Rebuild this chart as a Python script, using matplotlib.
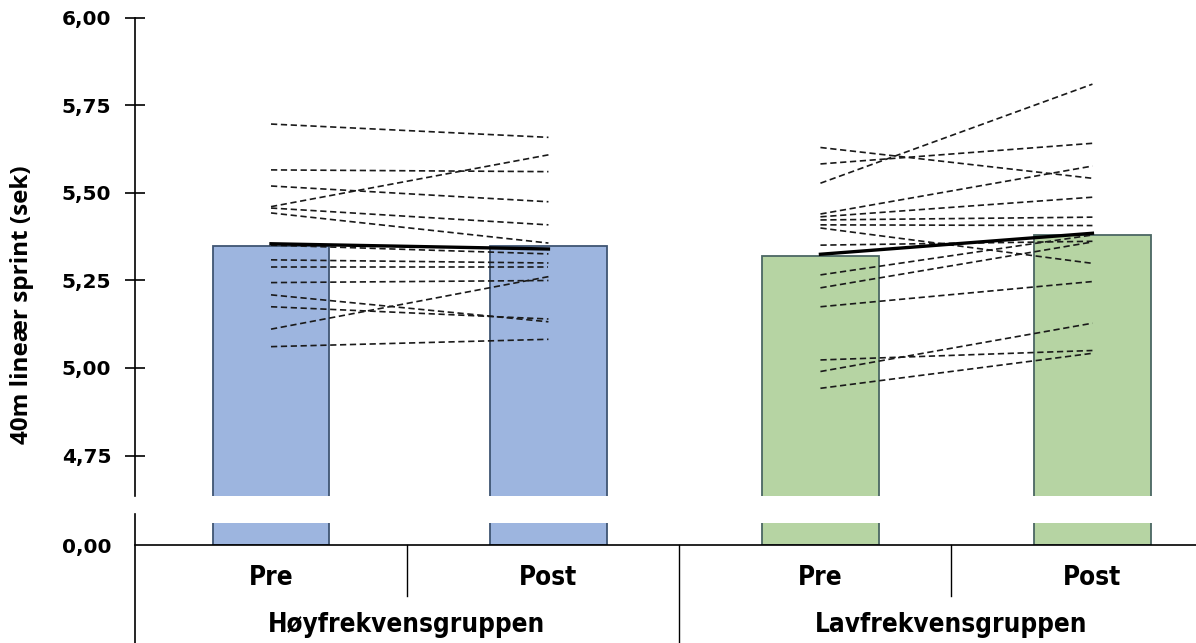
import matplotlib
matplotlib.use('Agg')

import numpy as np
import matplotlib.pyplot as plt

plt.rcParams['lines.scale_dashes'] = False

# categories
categories = ['Pre', 'Post', 'Pre', 'Post']
groups = ['Høyfrekvensgruppen', 'Lavfrekvensgruppen']

# bar heights (group mean, sek)
bar_values = [5.35, 5.35, 5.32, 5.38]

# mean lines (pre, post)
mean_hoy = [5.355, 5.34]
mean_lav = [5.325, 5.385]

# individual players, pre and post
pre_hoy = [5.697, 5.566, 5.520, 5.461, 5.457, 5.443, 5.351, 5.309, 5.289, 5.244, 5.209, 5.175, 5.111, 5.061]
post_hoy = [5.659, 5.561, 5.475, 5.609, 5.409, 5.357, 5.326, 5.300, 5.289, 5.250, 5.132, 5.140, 5.261, 5.082]

pre_lav = [5.630, 5.583, 5.528, 5.440, 5.432, 5.423, 5.409, 5.400, 5.351, 5.266, 5.229, 5.175, 5.023, 4.990, 4.942]
post_lav = [5.542, 5.642, 5.811, 5.577, 5.488, 5.431, 5.407, 5.299, 5.362, 5.380, 5.360, 5.247, 5.050, 5.128, 5.042]

yticks_top = [4.75, 5.00, 5.25, 5.50, 5.75, 6.00]

W, H = 1196, 643
xpos = [0, 1.02, 2.02, 3.02]
bar_colors = ['#9db5df', '#9db5df', '#b6d4a3', '#b6d4a3']
edge_colors = ['#3f5573', '#3f5573', '#4b6763', '#4b6763']


def fmt(v):
    return f'{v:.2f}'.replace('.', ',')


def main():
    fig = plt.figure(figsize=(W / 100, H / 100), dpi=100)

    # upper part of broken axis (4.634 - 6.00)
    ax = fig.add_axes([135 / W, 1 - 496 / H, 1088 / W, 478 / H])
    # lower part (0,00)
    axb = fig.add_axes([135 / W, 1 - 545 / H, 1088 / W, 22 / H])

    for a in (ax, axb):
        a.bar(xpos, bar_values, width=0.43, color=bar_colors,
              edgecolor=edge_colors, linewidth=1.3, zorder=1)
        a.set_xlim(-0.5, 3.5)
        a.spines['top'].set_visible(False)
        a.spines['right'].set_visible(False)
        a.set_xticks([])

    ax.set_ylim(6 - 478 / 350, 6.0)
    ax.set_yticks(yticks_top)
    ax.set_yticklabels([fmt(v) for v in yticks_top], fontsize=14.5,
                       fontweight='bold', family='DejaVu Sans')
    ax.tick_params(axis='y', direction='inout', length=14, width=1.2, pad=10)
    ax.spines['left'].set_linewidth(1.2)
    ax.spines['bottom'].set_visible(False)

    for i in range(len(pre_hoy)):
        ax.plot([xpos[0], xpos[1]], [pre_hoy[i], post_hoy[i]], color='#1a1a1a',
                lw=1.2, dashes=(4.5, 2.6), zorder=3)
    for i in range(len(pre_lav)):
        ax.plot([xpos[2], xpos[3]], [pre_lav[i], post_lav[i]], color='#1a1a1a',
                lw=1.2, dashes=(4.5, 2.6), zorder=3)
    ax.plot([xpos[0], xpos[1]], mean_hoy, color='black', lw=2.4, zorder=4)
    ax.plot([xpos[2], xpos[3]], mean_lav, color='black', lw=2.4, zorder=4)

    ax.set_ylabel('40m lineær sprint (sek)', fontsize=17.5, fontweight='bold',
                  family=['Open Sans', 'DejaVu Sans'])
    ax.yaxis.set_label_coords(-0.093, 0.40)

    axb.set_ylim(0, 0.1)
    axb.set_yticks([0])
    axb.set_yticklabels([fmt(0)], fontsize=14.5, fontweight='bold', family='DejaVu Sans')
    axb.tick_params(axis='y', length=0, pad=17)
    axb.spines['left'].set_visible(False)
    axb.spines['bottom'].set_linewidth(1.2)

    # left axis line of the lower part, running down past the categories
    axb.plot([0, 0], [1 + 9 / 22, -98 / 22], transform=axb.transAxes,
             color='black', lw=1.2, clip_on=False)

    tr = axb.get_xaxis_transform()
    axb.plot([0.5, 0.5], [0, -51 / 22], transform=tr, color='black', lw=1.0, clip_on=False)
    axb.plot([2.5, 2.5], [0, -51 / 22], transform=tr, color='black', lw=1.0, clip_on=False)
    axb.plot([1.5, 1.5], [0, -98 / 22], transform=tr, color='black', lw=1.0, clip_on=False)

    for x, c in zip(xpos, categories):
        axb.text(x, -33 / 22, c, transform=tr, ha='center', va='center',
                 fontsize=18.7, fontweight='bold', family='DejaVu Sans', fontstretch='condensed')
    for x, g in zip([0.5, 2.5], groups):
        axb.text(x, -80 / 22, g, transform=tr, ha='center', va='center',
                 fontsize=18.7, fontweight='bold', family='DejaVu Sans', fontstretch='condensed')

    fig.savefig('out.png', dpi=100)
    plt.close(fig)


if __name__ == "__main__":
    main()
